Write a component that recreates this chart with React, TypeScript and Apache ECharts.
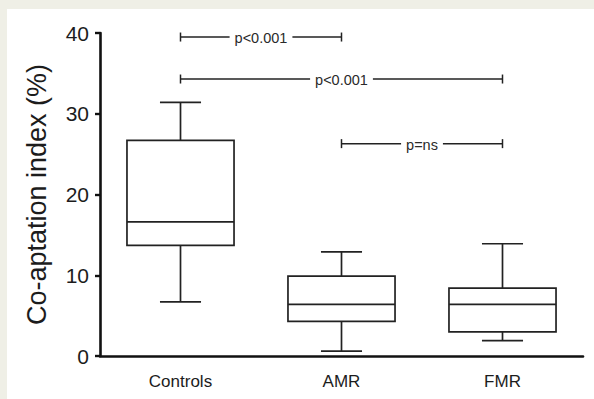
import React, { useEffect, useRef } from "react";
import * as echarts from "echarts";

const categories = ["Controls", "AMR", "FMR"];
const mins = [6.7, 0.6, 1.9];
const q1s = [13.7, 4.3, 3.0];
const medians = [16.6, 6.4, 6.4];
const q3s = [26.7, 9.9, 8.4];
const maxs = [31.4, 12.9, 13.9];

const sigFrom = [0, 0, 1];
const sigTo = [1, 2, 2];
const sigLevel = [39.5, 34.3, 26.3];
const sigLabels = ["p<0.001", "p<0.001", "p=ns"];

const yTicks = [0, 10, 20, 30, 40];

const FONT = "'Liberation Sans', Arial, Helvetica, sans-serif";
const INK = "#1c1c1c";

export default function App() {
  const ref = useRef<HTMLDivElement>(null);
  useEffect(() => {
    if (!ref.current) return;
    const chart = echarts.init(ref.current, undefined, { renderer: "svg" });
    const boxData = categories.map((_, i) => [i, mins[i], q1s[i], medians[i], q3s[i], maxs[i]]);
    const sigData = sigLabels.map((_, i) => [sigFrom[i], sigTo[i], sigLevel[i]]);
    chart.setOption({
      animation: false,
      backgroundColor: "#ffffff",
      grid: { left: 93, right: 11, top: 24, bottom: 43 },
      xAxis: {
        type: "category",
        data: categories,
        boundaryGap: true,
        axisLine: { lineStyle: { color: "#111", width: 2.6 } },
        axisTick: { alignWithLabel: true, length: 5, lineStyle: { color: "#111", width: 2.4 } },
        axisLabel: { color: INK, fontSize: 17, fontFamily: FONT, margin: 17 },
      },
      yAxis: {
        type: "value",
        min: yTicks[0],
        max: yTicks[yTicks.length - 1],
        interval: 10,
        splitLine: { show: false },
        axisLine: { show: true, lineStyle: { color: "#111", width: 2.6 } },
        axisTick: { show: true, length: 5, lineStyle: { color: "#111", width: 2.4 } },
        axisLabel: { color: INK, fontSize: 21, fontFamily: FONT, margin: 11 },
        name: "Co-aptation index (%)",
        nameLocation: "middle",
        nameGap: 50,
        nameTextStyle: { color: INK, fontSize: 27, fontFamily: FONT },
      },
      series: [
        {
          type: "custom",
          data: boxData,
          encode: { x: 0, y: [1, 2, 3, 4, 5] },
          renderItem: (params: any, api: any) => {
            const x = api.value(0);
            const band = api.size([1, 0])[0];
            const bw = band * 0.665;
            const cw = band * 0.255;
            const pMin = api.coord([x, api.value(1)]);
            const pQ1 = api.coord([x, api.value(2)]);
            const pMed = api.coord([x, api.value(3)]);
            const pQ3 = api.coord([x, api.value(4)]);
            const pMax = api.coord([x, api.value(5)]);
            const cx = pMed[0];
            const st = { stroke: "#222", lineWidth: 1.7, fill: null };
            return {
              type: "group",
              children: [
                { type: "line", shape: { x1: cx, y1: pMax[1], x2: cx, y2: pQ3[1] }, style: st },
                { type: "line", shape: { x1: cx, y1: pQ1[1], x2: cx, y2: pMin[1] }, style: st },
                { type: "line", shape: { x1: cx - cw / 2, y1: pMax[1], x2: cx + cw / 2, y2: pMax[1] }, style: st },
                { type: "line", shape: { x1: cx - cw / 2, y1: pMin[1], x2: cx + cw / 2, y2: pMin[1] }, style: st },
                {
                  type: "rect",
                  shape: { x: cx - bw / 2, y: pQ3[1], width: bw, height: pQ1[1] - pQ3[1] },
                  style: { stroke: "#222", lineWidth: 1.7, fill: "#ffffff" },
                },
                { type: "line", shape: { x1: cx - bw / 2, y1: pMed[1], x2: cx + bw / 2, y2: pMed[1] }, style: st },
              ],
            };
          },
        },
        {
          type: "custom",
          data: sigData,
          encode: { x: [0, 1], y: 2 },
          renderItem: (params: any, api: any) => {
            const a = api.coord([api.value(0), api.value(2)]);
            const b = api.coord([api.value(1), api.value(2)]);
            const y = a[1];
            const st = { stroke: "#222", lineWidth: 1.5, fill: null };
            return {
              type: "group",
              children: [
                { type: "line", shape: { x1: a[0], y1: y, x2: b[0], y2: y }, style: st },
                { type: "line", shape: { x1: a[0], y1: y - 4.5, x2: a[0], y2: y + 4.5 }, style: st },
                { type: "line", shape: { x1: b[0], y1: y - 4.5, x2: b[0], y2: y + 4.5 }, style: st },
                {
                  type: "text",
                  z2: 10,
                  style: {
                    text: sigLabels[params.dataIndex],
                    x: (a[0] + b[0]) / 2,
                    y: y + 1,
                    align: "center",
                    verticalAlign: "middle",
                    fill: "#2a2a2a",
                    font: `14.5px ${FONT}`,
                    backgroundColor: "#ffffff",
                    padding: [0, 5],
                  },
                },
              ],
            };
          },
        },
      ],
    });
    return () => chart.dispose();
  }, []);
  return (
    <div style={{ position: "fixed", left: 0, top: 0, width: 594, height: 399, background: "#efefe6" }}>
      <div style={{ position: "absolute", left: 7, top: 9, width: 587, height: 390, background: "#ffffff" }}>
        <div ref={ref} style={{ width: 587, height: 390 }} />
      </div>
    </div>
  );
}
